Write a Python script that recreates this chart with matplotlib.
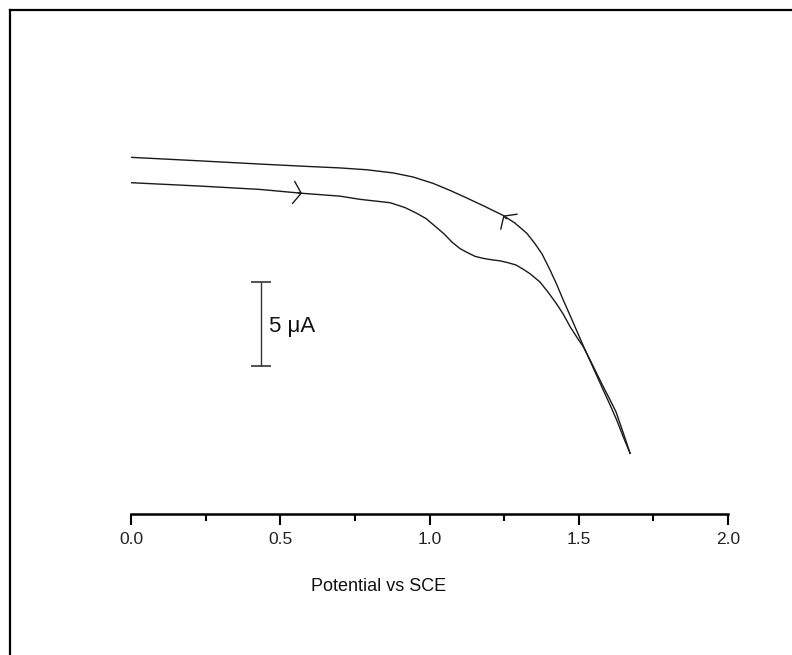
import matplotlib
matplotlib.use('Agg')
import matplotlib.pyplot as plt
from matplotlib.lines import Line2D
import numpy as np

plt.rcParams['font.family'] = ['Liberation Sans', 'DejaVu Sans']

# forward scan (V vs SCE, current in uA, arbitrary offset)
e_fwd = [0.000, 0.231, 0.432, 0.573, 0.700, 0.767, 0.868, 0.918, 0.957, 0.988,
         1.018, 1.049, 1.075, 1.102, 1.126, 1.152, 1.179, 1.209, 1.236, 1.263,
         1.290, 1.313, 1.337, 1.370, 1.397, 1.426, 1.448, 1.471, 1.493, 1.515,
         1.538, 1.560, 1.582, 1.605, 1.625, 1.638, 1.655, 1.672]
i_fwd = [19.72, 19.52, 19.32, 19.09, 18.92, 18.73, 18.53, 18.24, 17.90, 17.59,
         17.14, 16.67, 16.19, 15.80, 15.57, 15.34, 15.22, 15.13, 15.07, 14.96,
         14.82, 14.58, 14.30, 13.81, 13.21, 12.50, 11.90, 11.15, 10.54, 9.96,
         9.17, 8.37, 7.58, 6.79, 6.07, 5.40, 4.52, 3.61]

# reverse scan
e_rev = [1.672, 1.648, 1.627, 1.605, 1.582, 1.561, 1.538, 1.514, 1.493, 1.471,
         1.448, 1.427, 1.404, 1.377, 1.353, 1.326, 1.286, 1.247, 1.186, 1.125,
         1.069, 1.012, 0.945, 0.879, 0.790, 0.700, 0.566, 0.432, 0.231, 0.000]
i_rev = [3.61, 4.64, 5.60, 6.49, 7.38, 8.21, 9.11, 10.06, 10.92, 11.82,
         12.74, 13.63, 14.52, 15.48, 16.10, 16.71, 17.32, 17.77, 18.30, 18.81,
         19.26, 19.68, 20.06, 20.30, 20.49, 20.60, 20.71, 20.83, 21.02, 21.23]

# scan direction markers (tip position)
arrow_fwd = (0.573, 19.09)
arrow_rev = (1.247, 17.77)

# current scale bar
bar_x = 0.435
bar_mid = 11.31
bar_size = 5.0  # uA

fig = plt.figure(figsize=(7.92, 6.55), dpi=100)
ax = fig.add_axes([131/792, 1 - 514/655, 597/792, 453.6/655])

ax.plot(e_fwd, i_fwd, color='#1a1a1a', lw=1.0)
ax.plot(e_rev, i_rev, color='#1a1a1a', lw=1.0)

head = dict(arrowstyle='->,head_length=0.55,head_width=0.8', color='#1a1a1a',
            lw=1.0, shrinkA=0, shrinkB=0, mutation_scale=10)
ax.annotate('', xy=arrow_fwd, xytext=(-3, 0.3), textcoords='offset points',
            arrowprops=head)
ax.annotate('', xy=arrow_rev, xytext=(2.2, -2.4), textcoords='offset points',
            arrowprops=head)

ax.errorbar([bar_x], [bar_mid], yerr=bar_size / 2, fmt='none', ecolor='#333333',
            elinewidth=1.0, capsize=7.5, capthick=1.2)
ax.text(bar_x + 0.027, bar_mid - 0.16, '5 \u03bcA', fontsize=16, ha='left',
        va='center', color='#111111')

ax.set_xlim(0, 2)
ax.set_ylim(0, 27)
for s in ['left', 'top', 'right']:
    ax.spines[s].set_visible(False)
ax.spines['bottom'].set_linewidth(1.8)
ax.set_yticks([])
ax.set_xticks(np.arange(0, 2.01, 0.5))
ax.set_xticks(np.arange(0.25, 2.0, 0.5), minor=True)
ax.set_xticklabels(['0.0', '0.5', '1.0', '1.5', '2.0'])
ax.tick_params(axis='x', which='major', length=8, width=1.5, pad=5,
               labelsize=12.5, labelcolor='#222222')
ax.tick_params(axis='x', which='minor', length=5, width=1.5)
ax.set_xlabel('Potential vs SCE', fontsize=13, va='center', color='#111111')
ax.xaxis.set_label_coords(0.415, -0.160)

# frame along the top and left edges
fig.add_artist(Line2D([10/792, 10/792], [0, 1 - 10/655], color='black', lw=1.6,
                      transform=fig.transFigure))
fig.add_artist(Line2D([10/792, 1], [1 - 10/655, 1 - 10/655], color='black', lw=1.6,
                      transform=fig.transFigure))

plt.savefig('out.png', dpi=100)
